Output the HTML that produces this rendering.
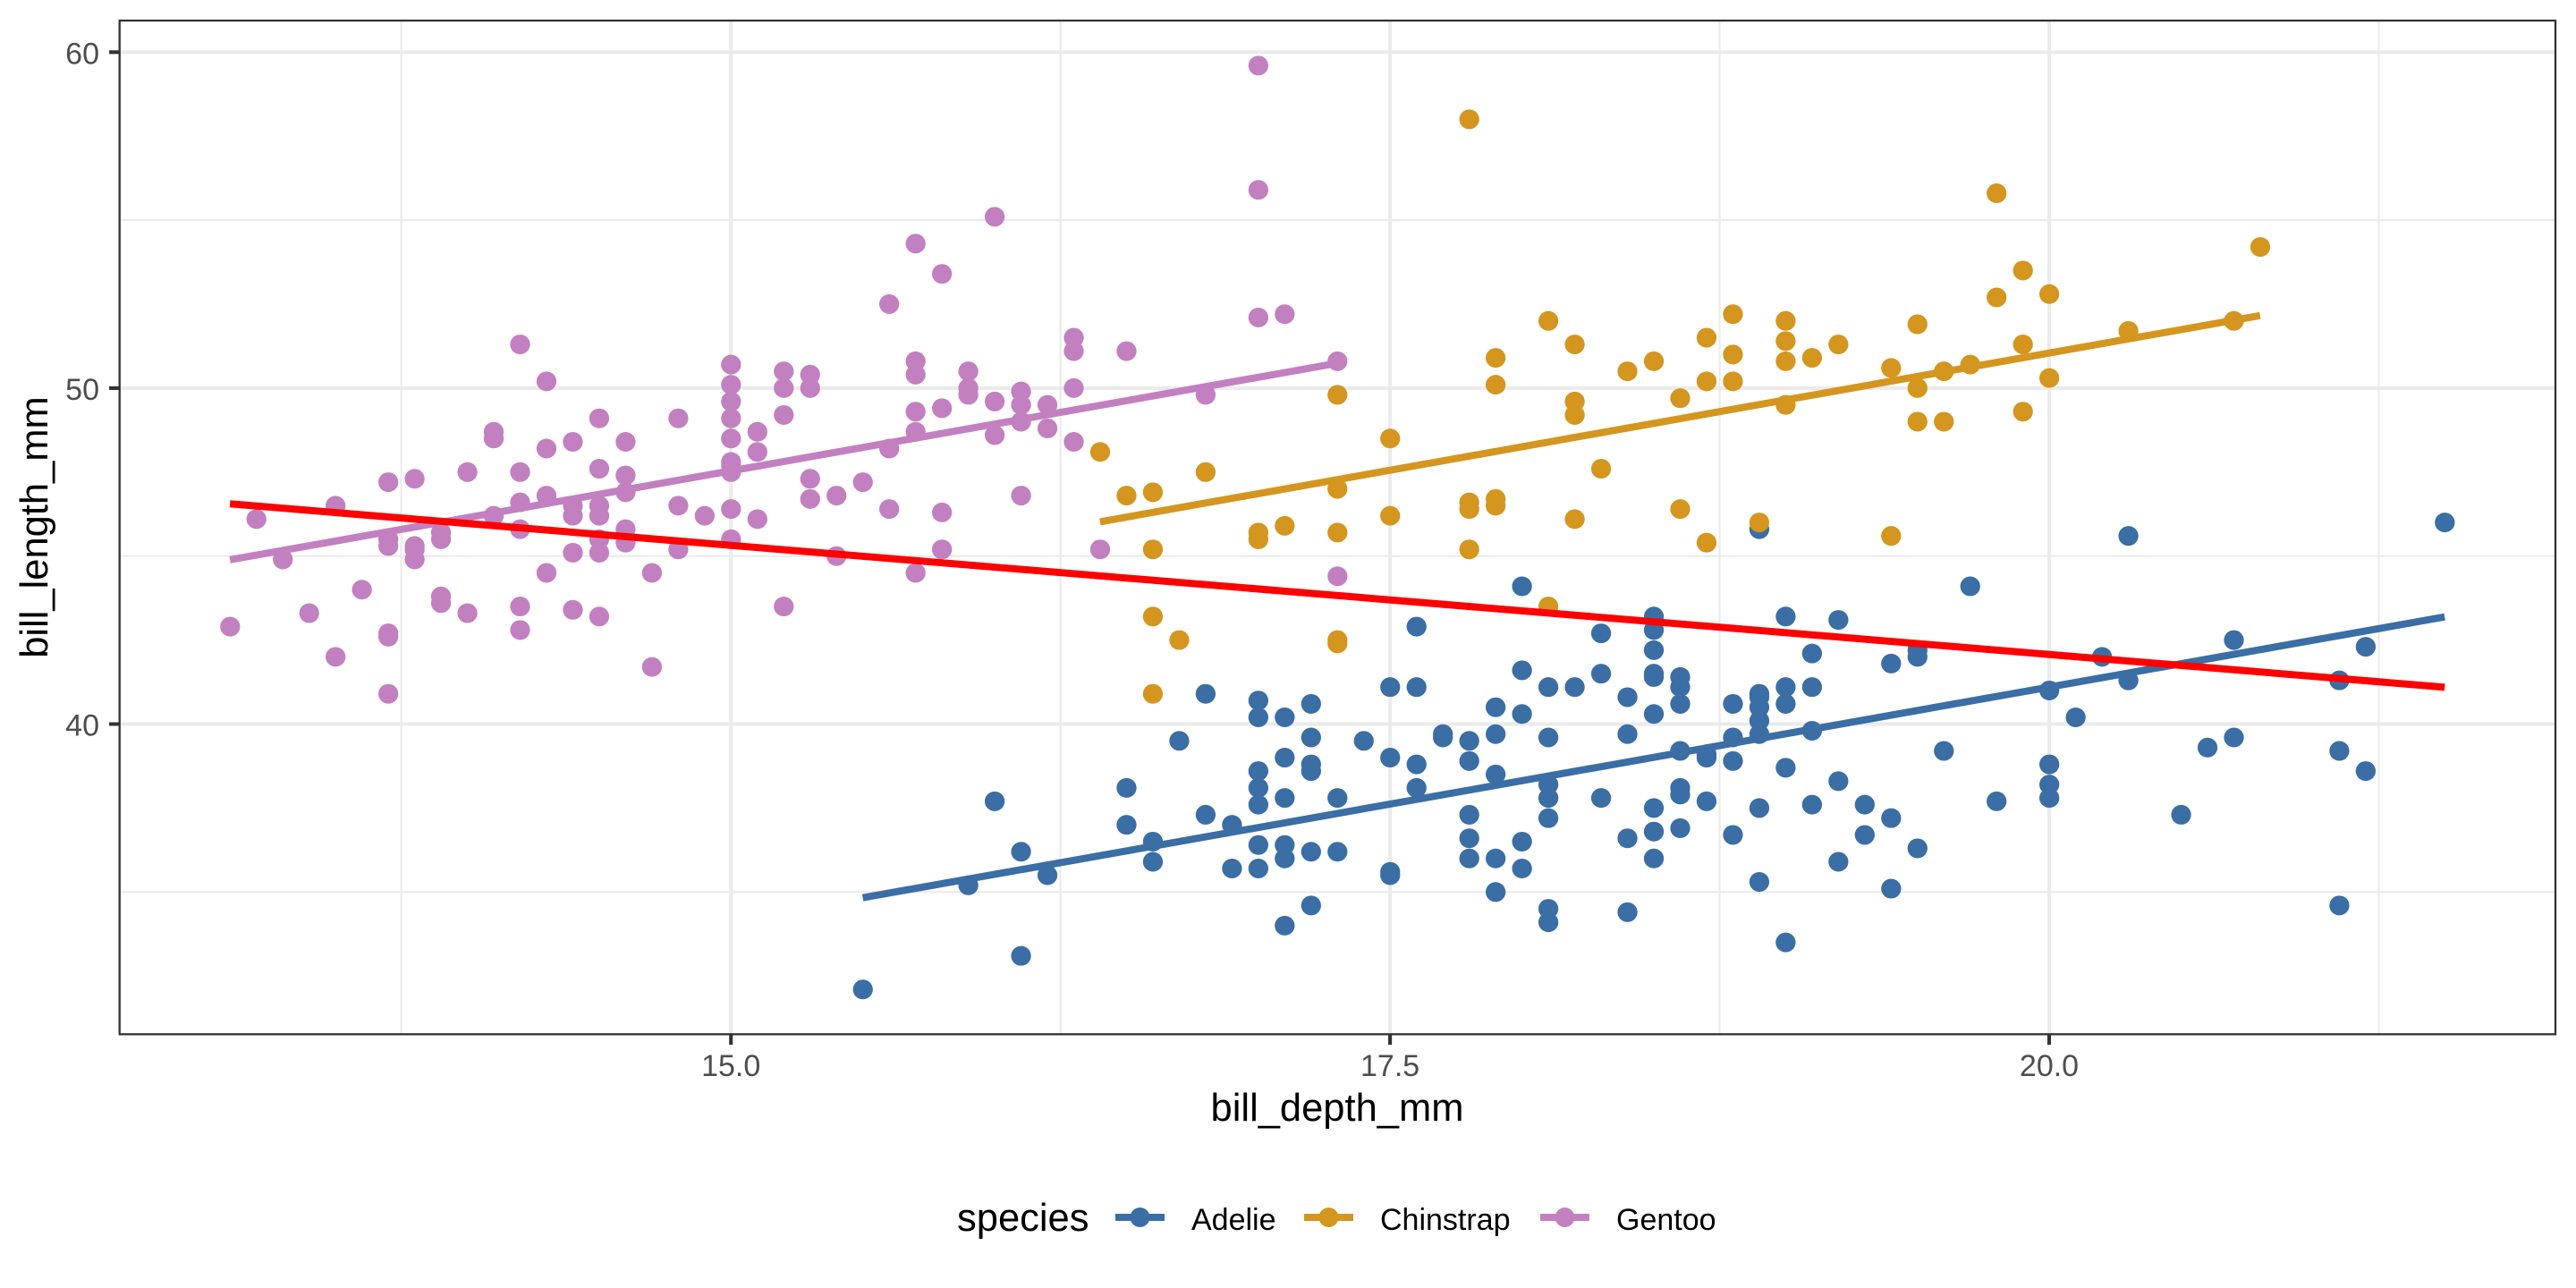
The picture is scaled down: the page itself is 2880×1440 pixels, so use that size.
<!DOCTYPE html>
<html><head><meta charset="utf-8"><style>
html,body{margin:0;padding:0;background:#fff}
svg{display:block}
.pt{vector-effect:non-scaling-stroke;fill:none;stroke-linecap:round;stroke-width:22}
.ln{vector-effect:non-scaling-stroke;fill:none;stroke-linecap:butt;stroke-width:8}
text{font-family:"Liberation Sans",Arial,sans-serif}
</style></head><body>
<svg width="2880" height="1440" viewBox="0 0 2880 1440" xmlns="http://www.w3.org/2000/svg">
<rect width="2880" height="1440" fill="#fff"/>
<!-- minor grid -->
<g stroke="#ebebeb" stroke-width="2.1" fill="none">
<path d="M448.6 23V1156M1185.6 23V1156M1922.6 23V1156M2659.5 23V1156"/>
<path d="M134 997.3H2857M134 621.7H2857M134 246.1H2857"/>
</g>
<!-- major grid -->
<g stroke="#ebebeb" stroke-width="4.1" fill="none">
<path d="M817.2 23V1156M1554.1 23V1156M2291 23V1156"/>
<path d="M134 809.5H2857M134 433.9H2857M134 58.3H2857"/>
</g>
<g transform="matrix(294.77,0,0,-37.56,-3604.38,2311.9)">
<path class="pt" stroke="#3a6ea5" d="M18.7 39.1h.001M17.4 39.5h.001M18 40.3h.001M19.3 36.7h.001M20.6 39.3h.001M17.8 38.9h.001M19.6 39.2h.001M18.1 34.1h.001M20.2 42h.001M17.1 37.8h.001M17.3 37.8h.001M17.6 41.1h.001M21.2 38.6h.001M21.1 34.6h.001M17.8 36.6h.001M19 38.7h.001M20.7 42.5h.001M18.4 34.4h.001M21.5 46h.001M18.3 37.8h.001M18.7 37.7h.001M19.2 35.9h.001M18.1 38.2h.001M17.2 38.8h.001M18.9 35.3h.001M18.6 40.6h.001M17.9 40.5h.001M18.6 37.9h.001M18.9 40.5h.001M16.7 39.5h.001M18.1 37.2h.001M17.8 39.5h.001M18.9 40.9h.001M17 36.4h.001M21.1 39.2h.001M20 38.8h.001M18.5 42.2h.001M19.3 37.6h.001M19.1 39.8h.001M18 36.5h.001M18.4 40.8h.001M18.5 36h.001M19.7 44.1h.001M16.9 37h.001M18.8 39.6h.001M19 41.1h.001M18.9 37.5h.001M17.9 36h.001M21.2 42.3h.001M17.7 39.6h.001M18.9 40.1h.001M17.9 35h.001M19.5 42h.001M18.1 34.5h.001M18.6 41.4h.001M17.5 39h.001M18.8 40.6h.001M16.6 36.5h.001M19.1 37.6h.001M16.9 35.7h.001M21.1 41.3h.001M17 37.6h.001M18.2 41.1h.001M17.1 36.4h.001M18 41.6h.001M16.2 35.5h.001M19.1 41.1h.001M16.6 35.9h.001M19.4 41.8h.001M19 33.5h.001M18.4 39.7h.001M17.2 39.6h.001M18.9 45.8h.001M17.5 35.5h.001M18.5 42.8h.001M16.8 40.9h.001M19.4 37.2h.001M16.1 36.2h.001M19.1 42.1h.001M17.2 34.6h.001M17.6 42.9h.001M18.8 36.7h.001M19.4 35.1h.001M17.8 37.3h.001M20.3 41.3h.001M19.5 36.3h.001M18.6 36.9h.001M19.2 38.3h.001M18.8 38.9h.001M18 35.7h.001M18.1 41.1h.001M17.1 34h.001M18.1 39.6h.001M17.3 36.2h.001M18.9 40.8h.001M18.6 38.1h.001M18.5 40.3h.001M16.1 33.1h.001M18.5 43.2h.001M17.9 35h.001M20 41h.001M16 37.7h.001M20 37.8h.001M18.6 37.9h.001M18.9 39.7h.001M17.2 38.6h.001M20 38.2h.001M17 38.1h.001M19 43.2h.001M16.5 38.1h.001M20.3 45.6h.001M17.7 39.7h.001M19.5 42.2h.001M20.7 39.6h.001M18.3 42.7h.001M17 38.6h.001M20.5 37.3h.001M17 35.7h.001M18.6 41.1h.001M17.2 36.2h.001M19.8 37.7h.001M17 40.2h.001M18.5 41.4h.001M15.9 35.2h.001M19 40.6h.001M17.6 38.8h.001M18.3 41.5h.001M17.1 39h.001M18 44.1h.001M17.9 38.5h.001M19.2 43.1h.001M18.5 36.8h.001M18.5 37.5h.001M17.6 38.1h.001M17.5 41.1h.001M17.5 35.6h.001M20.1 40.2h.001M16.5 37h.001M17.9 39.7h.001M17.1 40.2h.001M17.2 40.6h.001M15.5 32.1h.001M17 40.7h.001M16.8 37.3h.001M18.7 39h.001M18.6 39.2h.001M18.4 36.6h.001M17.8 36h.001M18.1 37.8h.001M17.1 36h.001M18.5 41.5h.001"/>
<path class="pt" stroke="#c280c1" d="M13.2 46.1h.001M16.3 50h.001M14.1 48.7h.001M15.2 50h.001M14.5 47.6h.001M13.5 46.5h.001M14.6 45.4h.001M15.3 46.7h.001M13.4 43.3h.001M15.4 46.8h.001M13.7 40.9h.001M16.1 49h.001M13.7 45.5h.001M14.6 48.4h.001M14.6 45.8h.001M15.7 49.3h.001M13.5 42h.001M15.2 49.2h.001M14.5 46.2h.001M15.1 48.7h.001M14.3 50.2h.001M14.5 45.1h.001M14.5 46.5h.001M15.8 46.3h.001M13.1 42.9h.001M15.1 46.1h.001M14.3 44.5h.001M15 47.8h.001M14.3 48.2h.001M15.3 50h.001M15.3 47.3h.001M14.2 42.8h.001M14.5 45.1h.001M17 59.6h.001M14.8 49.1h.001M16.3 48.4h.001M13.7 42.6h.001M17.3 44.4h.001M13.6 44h.001M15.7 48.7h.001M13.7 42.7h.001M16 49.6h.001M13.7 45.3h.001M15 49.6h.001M15.9 50.5h.001M13.9 43.6h.001M13.9 45.5h.001M15.9 50.5h.001M13.3 44.9h.001M15.8 45.2h.001M14.2 46.6h.001M14.1 48.5h.001M14.4 45.1h.001M15 50.1h.001M14.4 46.5h.001M15.4 45h.001M13.9 43.8h.001M15 45.5h.001M14.5 43.2h.001M15.3 50.4h.001M13.8 45.3h.001M14.9 46.2h.001M13.9 45.7h.001M15.7 54.3h.001M14.2 45.8h.001M16.8 49.8h.001M14.4 46.2h.001M16.2 49.5h.001M14.2 43.5h.001M15 50.7h.001M15 47.7h.001M15.6 46.4h.001M15.6 48.2h.001M14.8 46.5h.001M15 46.4h.001M16 48.6h.001M14.2 47.5h.001M16.3 51.1h.001M13.8 45.2h.001M16.4 45.2h.001M14.5 49.1h.001M15.6 52.5h.001M14.6 47.4h.001M15.9 50h.001M13.8 44.9h.001M17.3 50.8h.001M14.4 43.4h.001M14.2 51.3h.001M14 47.5h.001M17 52.1h.001M15 47.5h.001M17.1 52.2h.001M14.5 45.5h.001M16.1 49.5h.001M14.7 44.5h.001M15.7 50.8h.001M15.8 49.4h.001M14.6 46.9h.001M14.4 48.4h.001M16.5 51.1h.001M15 48.5h.001M17 55.9h.001M15.5 47.2h.001M15 49.1h.001M13.8 47.3h.001M16.1 46.8h.001M14.7 41.7h.001M15.8 53.4h.001M14 43.3h.001M15.1 48.1h.001M15.2 50.5h.001M15.9 49.8h.001M15.2 43.5h.001M16.3 51.5h.001M14.1 46.2h.001M16 55.1h.001M15.7 44.5h.001M16.2 48.8h.001M13.7 47.2h.001M14.3 46.8h.001M15.7 50.4h.001M14.8 45.2h.001M16.1 49.9h.001"/>
<path class="pt" stroke="#d4961f" d="M17.9 46.5h.001M19.5 50h.001M19.2 51.3h.001M18.7 45.4h.001M19.8 52.7h.001M17.8 45.2h.001M18.2 46.1h.001M18.2 51.3h.001M18.9 46h.001M19.9 51.3h.001M17.8 46.6h.001M20.3 51.7h.001M17.3 47h.001M18.1 52h.001M17.1 45.9h.001M19.6 50.5h.001M20 50.3h.001M17.8 58h.001M18.6 46.4h.001M18.2 49.2h.001M17.3 42.4h.001M17.5 48.5h.001M16.6 43.2h.001M19.4 50.6h.001M17.9 46.7h.001M19 52h.001M18.4 50.5h.001M19 49.5h.001M17.8 46.4h.001M20 52.8h.001M16.6 40.9h.001M20.8 54.2h.001M16.7 42.5h.001M18.8 51h.001M18.6 49.7h.001M16.8 47.5h.001M18.3 47.6h.001M20.7 52h.001M16.6 46.9h.001M19.9 53.5h.001M19.5 49h.001M17.5 46.2h.001M19.1 50.9h.001M17 45.5h.001M17.9 50.9h.001M18.5 50.8h.001M17.9 50.1h.001M19.6 49h.001M18.7 51.5h.001M17.3 49.8h.001M16.4 48.1h.001M19 51.4h.001M17.3 45.7h.001M19.7 50.7h.001M17.3 42.5h.001M18.8 52.2h.001M16.6 45.2h.001M19.9 49.3h.001M18.8 50.2h.001M19.4 45.6h.001M19.5 51.9h.001M16.5 46.8h.001M17 45.7h.001M19.8 55.8h.001M18.1 43.5h.001M18.2 49.6h.001M19 50.8h.001M18.7 50.2h.001"/>
<path class="ln" stroke="#3a6ea5" d="M15.5 34.83L21.5 43.19"/>
<path class="ln" stroke="#d4961f" d="M16.4 46.02L20.8 52.16"/>
<path class="ln" stroke="#c280c1" d="M13.1 44.89L17.3 50.74"/>
<path class="ln" stroke="#ff0000" d="M13.1 46.555L21.5 41.096"/>
</g>
<!-- panel border -->
<rect x="133.7" y="23" width="2723.3" height="1133.3" fill="none" stroke="#333333" stroke-width="2.3"/>
<!-- ticks -->
<g stroke="#333333" stroke-width="4.1">
<path d="M817.2 1156V1168M1554.1 1156V1168M2291 1156V1168"/>
<path d="M122 809.5H133.7M122 433.9H133.7M122 58.3H133.7"/>
</g>
<!-- tick labels -->
<g fill="#4d4d4d" font-size="34">
<text x="817.2" y="1203" text-anchor="middle">15.0</text>
<text x="1554.1" y="1203" text-anchor="middle">17.5</text>
<text x="2291" y="1203" text-anchor="middle">20.0</text>
<text x="111" y="822.5" text-anchor="end">40</text>
<text x="111" y="446.9" text-anchor="end">50</text>
<text x="111" y="71.3" text-anchor="end">60</text>
</g>
<!-- axis titles -->
<text x="1495" y="1253" text-anchor="middle" font-size="43.5" fill="#000">bill_depth_mm</text>
<text transform="translate(53,589.5) rotate(-90)" text-anchor="middle" font-size="43.5" fill="#000">bill_length_mm</text>
<!-- legend -->
<text x="1070" y="1376" font-size="43.5" fill="#000">species</text>
<g stroke-width="8">
<line x1="1247" y1="1361" x2="1302" y2="1361" stroke="#3a6ea5"/>
<line x1="1458" y1="1361" x2="1513" y2="1361" stroke="#d4961f"/>
<line x1="1722" y1="1361" x2="1777" y2="1361" stroke="#c280c1"/>
</g>
<circle cx="1274.5" cy="1361" r="11" fill="#3a6ea5"/>
<circle cx="1485.5" cy="1361" r="11" fill="#d4961f"/>
<circle cx="1749.5" cy="1361" r="11" fill="#c280c1"/>
<g font-size="34" fill="#000">
<text x="1332" y="1375">Adelie</text>
<text x="1543" y="1375">Chinstrap</text>
<text x="1807" y="1375">Gentoo</text>
</g>
</svg>
</body></html>
